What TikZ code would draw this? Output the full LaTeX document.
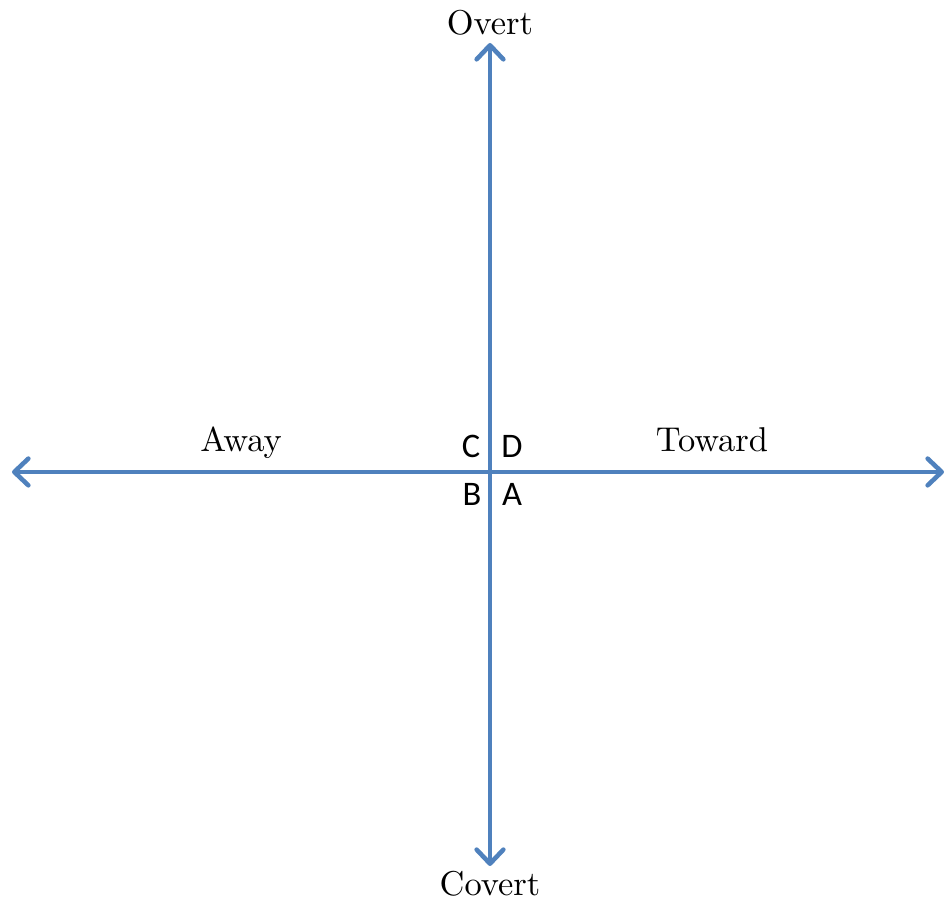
\documentclass[tikz,border=0pt]{standalone}
\usepackage{fontspec}
\usepackage{xcolor}
\usepackage{tikz}
\usetikzlibrary{arrows.meta}
\newfontfamily\quadfont{Carlito}
\definecolor{axisblue}{HTML}{4F81BD}

\begin{document}
\begin{tikzpicture}[
    axis/.style={draw=axisblue, line width=1.3pt, line cap=round,
      {Straight Barb[length=4pt, width=7.6pt, round]}-{Straight Barb[length=4pt, width=7.6pt, round]}},
    pole/.style={anchor=base, inner sep=0pt, font=\fontsize{9.8}{11}\selectfont},
    quad/.style={anchor=base, inner sep=0pt, font=\quadfont\fontsize{9.8}{11}\selectfont}
  ]
  \useasboundingbox (0,0) rectangle (9.46,8.99);
  % Axis end points
  \coordinate (o) at (4.90,4.27);
  \coordinate (up) at (4.90,8.56);
  \coordinate (down) at (4.90,0.33);
  \coordinate (left) at (0.12,4.27);
  \coordinate (right) at (9.44,4.27);

  % Axes
  \draw[axis] (down) -- (up);
  \draw[axis] (left) -- (right);

  % Pole labels
  \node[pole] (overt) at (4.90,8.64) {Overt};
  \node[pole] (covert) at (4.90,0.03) {Covert};
  \node[pole] (away) at (2.41,4.47) {Away};
  \node[pole] (toward) at (7.12,4.47) {Toward};

  % Quadrant letters
  \node[quad] (qc) at (4.71,4.41) {C};
  \node[quad] (qd) at (5.12,4.41) {D};
  \node[quad] (qb) at (4.72,3.93) {B};
  \node[quad] (qa) at (5.12,3.93) {A};
\end{tikzpicture}
\end{document}
